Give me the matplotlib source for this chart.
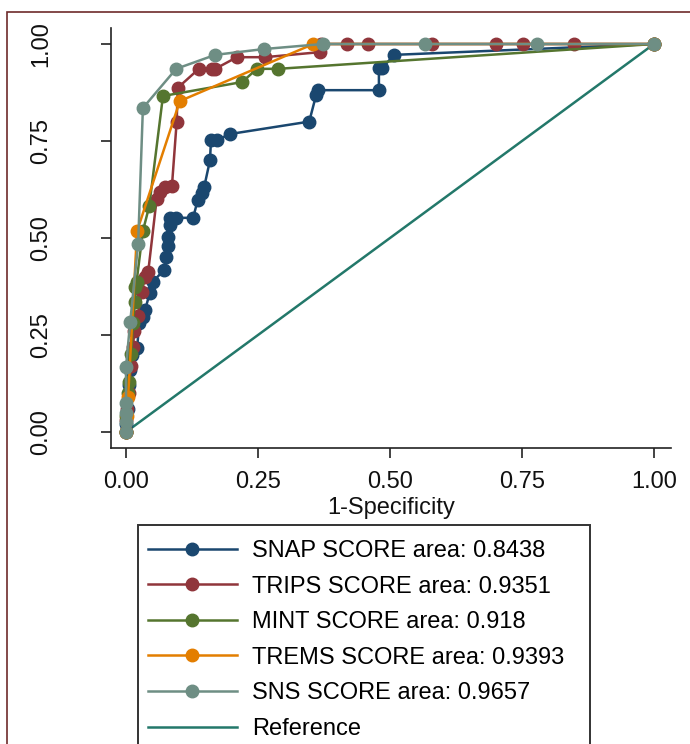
import matplotlib.pyplot as plt
from matplotlib.patches import Rectangle

plt.rcParams['font.family'] = ['Liberation Sans', 'DejaVu Sans']

# ROC points (1-specificity, sensitivity)
snap_x = [0, 0, 0.004, 0.006, 0.008, 0.011, 0.021, 0.025, 0.032, 0.036, 0.045, 0.051, 0.072, 0.076, 0.08, 0.08,
          0.083, 0.083, 0.095, 0.127, 0.136, 0.143, 0.148, 0.159, 0.161, 0.172, 0.197, 0.347, 0.36, 0.363, 0.479,
          0.479, 0.485, 0.508, 1]
snap_y = [0, 0.02, 0.06, 0.12, 0.16, 0.198, 0.216, 0.28, 0.296, 0.314, 0.358, 0.387, 0.418, 0.451, 0.48, 0.503,
          0.533, 0.552, 0.552, 0.552, 0.598, 0.616, 0.631, 0.70, 0.752, 0.752, 0.768, 0.80, 0.868, 0.881, 0.881,
          0.938, 0.938, 0.972, 1]

trips_x = [0, 0, 0.002, 0.005, 0.01, 0.013, 0.016, 0.022, 0.03, 0.036, 0.042, 0.058, 0.064, 0.074, 0.087, 0.096,
           0.098, 0.138, 0.163, 0.169, 0.21, 0.263, 0.367, 0.37, 0.419, 0.458, 0.58, 0.70, 0.752, 0.848, 1]
trips_y = [0, 0.03, 0.06, 0.1, 0.17, 0.22, 0.26, 0.3, 0.36, 0.40, 0.412, 0.60, 0.619, 0.631, 0.634, 0.80,
           0.887, 0.936, 0.936, 0.936, 0.966, 0.966, 0.979, 1.0, 1.0, 1.0, 1.0, 1.0, 1.0, 1.0, 1]

mint_x = [0, 0, 0.003, 0.006, 0.01, 0.013, 0.017, 0.017, 0.02, 0.032, 0.044, 0.07, 0.22, 0.248, 0.288, 1]
mint_y = [0, 0.04, 0.1, 0.13, 0.2, 0.28, 0.335, 0.374, 0.387, 0.518, 0.582, 0.866, 0.902, 0.936, 0.936, 1]

trems_x = [0, 0.002, 0.004, 0.021, 0.102, 0.355, 1]
trems_y = [0, 0.04, 0.09, 0.518, 0.853, 1.0, 1]

sns_x = [0, 0, 0, 0, 0, 0.008, 0.023, 0.032, 0.095, 0.169, 0.261, 0.373, 0.566, 0.778, 1]
sns_y = [0, 0.026, 0.05, 0.075, 0.168, 0.284, 0.485, 0.835, 0.936, 0.972, 0.987, 1.0, 1.0, 1.0, 1]

labels = ["SNAP SCORE area: 0.8438", "TRIPS SCORE area: 0.9351", "MINT SCORE area: 0.918",
          "TREMS SCORE area: 0.9393", "SNS SCORE area: 0.9657", "Reference"]
colours = ["#1a476f", "#90353b", "#55752f", "#e37e00", "#6e8e84", "#23786a"]

W, H = 690, 744
FS = 17
fig = plt.figure(figsize=(W / 100, H / 100), dpi=100)
ax = fig.add_axes([111 / W, 1 - 448 / H, (671 - 111) / W, (448 - 28) / H])

ax.plot([0, 1], [0, 1], color=colours[5], lw=1.8, zorder=1, label=labels[5])
series = [(snap_x, snap_y), (trips_x, trips_y), (mint_x, mint_y), (trems_x, trems_y), (sns_x, sns_y)]
handles = []
for (xs, ys), lab, col in zip(series, labels[:5], colours[:5]):
    h, = ax.plot(xs, ys, color=col, lw=1.8, marker='o', ms=9, mec=col, label=lab, zorder=2)
    handles.append(h)
handles.append(ax.lines[0])

ax.set_xlim(-15 / 528, 1 + 17 / 528)
ax.set_ylim(-16 / 388, 1 + 16 / 388)
ax.set_xticks([0, 0.25, 0.5, 0.75, 1])
ax.set_yticks([0, 0.25, 0.5, 0.75, 1])
ax.set_xticklabels(["0.00", "0.25", "0.50", "0.75", "1.00"])
ax.set_yticklabels(["0.00", "0.25", "0.50", "0.75", "1.00"], rotation=90, va='center')
ax.tick_params(axis='both', labelsize=FS, length=7.5, width=1.2, colors='#222222', labelcolor='#111111')
ax.tick_params(axis='y', pad=35)
ax.tick_params(axis='x', pad=9)
ax.set_xlabel("1-Specificity", fontsize=FS, labelpad=3, color='#111111')
for side in ['top', 'right']:
    ax.spines[side].set_visible(False)
for side in ['left', 'bottom']:
    ax.spines[side].set_linewidth(1.2)
    ax.spines[side].set_color('#222222')

leg = fig.legend(handles=handles, labels=labels, loc='upper left',
                 bbox_to_anchor=(148 / W, 1 - 540 / H), frameon=False, fontsize=FS,
                 handlelength=3.75, handletextpad=0.65, labelspacing=0.575, borderpad=0, borderaxespad=0)
for h in leg.legend_handles:
    h.set_markersize(9)

# legend box and outer frame (run past the image edges as in the picture)
fig.patches.append(Rectangle((138 / W, -0.1), (590 - 138) / W, 0.1 + 1 - 525 / H, transform=fig.transFigure,
                             fill=False, edgecolor='#333333', lw=1.4))
fig.patches.append(Rectangle((7 / W, -0.1), 1.1, 0.1 + 1 - 12 / H, transform=fig.transFigure,
                             fill=False, edgecolor='#6e2b2b', lw=1.2))

fig.savefig("out.png", dpi=100)
